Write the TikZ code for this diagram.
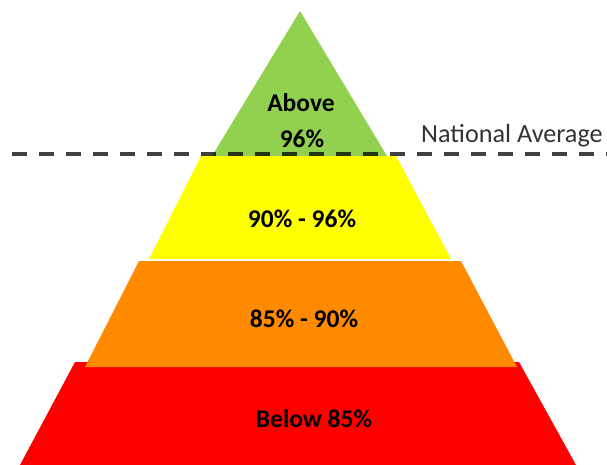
\documentclass[tikz,border=0pt]{standalone}
\usepackage{fontspec}
\setmainfont{Carlito}
\usepackage{tikz}
\usetikzlibrary{calc}

\definecolor{lvlgreen}{HTML}{92D050}
\definecolor{lvlyellow}{HTML}{FFFF00}
\definecolor{lvlorange}{HTML}{FF8A00}
\definecolor{lvlred}{HTML}{FF0000}

\begin{document}
\begin{tikzpicture}[x = 1pt, y = -1pt, lbl/.style = {inner sep = 0pt, anchor = base, font = \fontsize{25.5}{30}\selectfont\bfseries}, avg/.style = {draw = black, draw opacity = .75, line width = 4.5pt, dash pattern = on 15pt off 12pt}]
        \useasboundingbox (0, 0) rectangle (607, 465);

        % layers, bottom first
        \foreach \col/\tl/\tr/\br/\bl in {lvlred/{75,362}/{519,362}/{576,465}/{20,465},
                                          lvlorange/{139,261}/{461,261}/{517,367}/{85,367},
                                          lvlyellow/{201,156}/{396,156}/{451,259}/{149,259}}
                 {
                   \fill [\col] (\tl) -- (\tr) -- (\br) -- (\bl) -- cycle;
                 }
                 \fill [lvlgreen] (300, 11) -- (387, 156) -- (212, 156) -- cycle;

                 \node [lbl] (above) at (301, 112) {Above};
                 \node [lbl] (top) at (302, 148) {96\%};
                 \node [lbl] (mid1) at (302, 227) {90\% - 96\%};
                 \node [lbl] (mid2) at (304, 327) {85\% - 90\%};
                 \node [lbl] (low) at (314, 427) {Below 85\%};

                 \node [inner sep = 0pt, anchor = base west, font = \fontsize{26.2}{31}\selectfont, text = black!80] (nat) at (421, 143) {National Average};

                 \coordinate (avgL) at (12, 154);
                 \coordinate (avgR) at (607, 154);
                 \draw [avg] (avgL) -- (avgR);
      \end{tikzpicture}
\end{document}
